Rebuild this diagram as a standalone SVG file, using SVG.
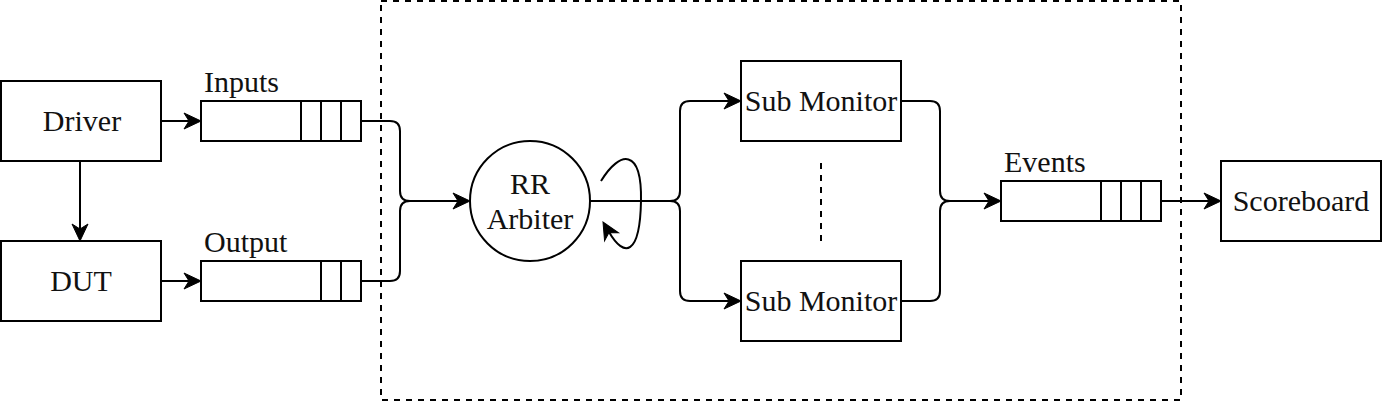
<svg xmlns="http://www.w3.org/2000/svg" width="1382" height="402" viewBox="0 0 1382 402">
<style>
.box{fill:#fff;stroke:#000;stroke-width:2}
.q{fill:#fff;stroke:#000;stroke-width:2}
.div{stroke:#000;stroke-width:2}
.lbl{font-family:"Liberation Serif","Times New Roman",serif;font-size:30px;fill:#111}
.c{text-anchor:middle}
.conn{fill:none;stroke:#000;stroke-width:2}
.dash{fill:none;stroke:#000;stroke-width:2;stroke-dasharray:6 6}
.head{fill:#000;stroke:#000;stroke-width:1}
</style>
<defs>
<path id="ah" d="M0,0 L-17,-8 L-12,0 L-17,8 Z"/>
</defs>
<rect id="boundary" class="dash" x="381" y="1" width="800" height="399"/>
<g id="connectors">
<path class="conn" d="M161,121 H189"/>
<path class="conn" d="M161,281 H189"/>
<path class="conn" d="M80,161 V229"/>
<path class="conn" d="M361,121 H390 Q400,121 400,131 V191 Q400,201 410,201 H458"/>
<path class="conn" d="M361,281 H390 Q400,281 400,271 V211 Q400,201 410,201"/>
<path class="conn" d="M590,201 H670 Q680,201 680,191 V111 Q680,101 690,101 H729"/>
<path class="conn" d="M590,201 H670 Q680,201 680,211 V291 Q680,301 690,301 H729"/>
<path class="conn" d="M901,101 H930 Q940,101 940,111 V191 Q940,201 950,201 H989"/>
<path class="conn" d="M901,301 H930 Q940,301 940,291 V211 Q940,201 950,201"/>
<path class="conn" d="M1161,201 H1209"/>
<path class="conn" d="M601,181 C620,150 642,148 641,201 C640,256 624,258 609,232"/>
<path class="dash" d="M821,163 V241"/>
<use href="#ah" class="head" transform="translate(201,121)"/>
<use href="#ah" class="head" transform="translate(201,281)"/>
<use href="#ah" class="head" transform="translate(80,241) rotate(90)"/>
<use href="#ah" class="head" transform="translate(470,201)"/>
<use href="#ah" class="head" transform="translate(741,101)"/>
<use href="#ah" class="head" transform="translate(741,301)"/>
<use href="#ah" class="head" transform="translate(1001,201)"/>
<use href="#ah" class="head" transform="translate(1221,201)"/>
<use href="#ah" class="head" transform="translate(603,222) rotate(-120)"/>
</g>
<g id="driver">
<rect class="box" x="1" y="81" width="160" height="80"/>
<text class="lbl c" x="82" y="131">Driver</text>
</g>
<g id="dut">
<rect class="box" x="1" y="241" width="160" height="80"/>
<text class="lbl c" x="81" y="291">DUT</text>
</g>
<g id="inputs">
<rect class="q" x="201" y="101" width="160" height="40"/>
<line class="div" x1="301" y1="101" x2="301" y2="141"/>
<line class="div" x1="321" y1="101" x2="321" y2="141"/>
<line class="div" x1="341" y1="101" x2="341" y2="141"/>
<text class="lbl" x="204" y="92">Inputs</text>
</g>
<g id="output">
<rect class="q" x="201" y="261" width="160" height="40"/>
<line class="div" x1="321" y1="261" x2="321" y2="301"/>
<line class="div" x1="341" y1="261" x2="341" y2="301"/>
<text class="lbl" x="204" y="252">Output</text>
</g>
<g id="arbiter">
<circle class="box" cx="530" cy="201" r="60"/>
<text class="lbl c" x="530" y="194">RR</text>
<text class="lbl c" x="530" y="229">Arbiter</text>
</g>
<g id="submon1">
<rect class="box" x="741" y="61" width="160" height="80"/>
<text class="lbl c" x="821" y="111">Sub Monitor</text>
</g>
<g id="submon2">
<rect class="box" x="741" y="261" width="160" height="80"/>
<text class="lbl c" x="821" y="311">Sub Monitor</text>
</g>
<g id="events">
<rect class="q" x="1001" y="181" width="160" height="40"/>
<line class="div" x1="1101" y1="181" x2="1101" y2="221"/>
<line class="div" x1="1121" y1="181" x2="1121" y2="221"/>
<line class="div" x1="1141" y1="181" x2="1141" y2="221"/>
<text class="lbl" x="1004" y="172">Events</text>
</g>
<g id="scoreboard">
<rect class="box" x="1221" y="161" width="160" height="80"/>
<text class="lbl c" x="1301" y="211">Scoreboard</text>
</g>
</svg>
